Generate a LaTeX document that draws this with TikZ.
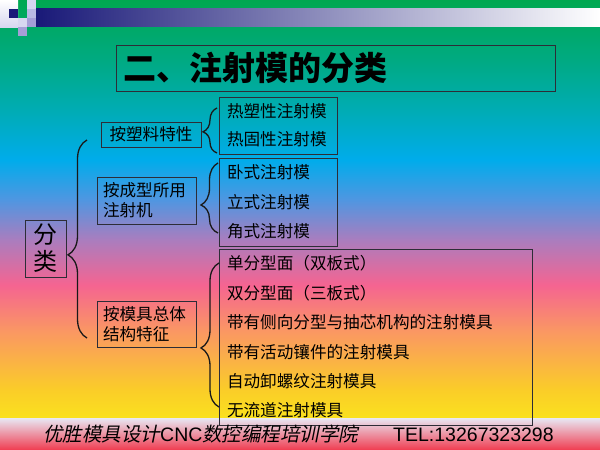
\documentclass[tikz,border=0pt]{standalone}
\usepackage{fontspec}
\setmainfont{Liberation Sans}
\newfontfamily\cjk{Noto Sans CJK SC}
\newfontfamily\cjkfoot[FakeSlant=0.2]{Noto Sans CJK SC}
\usetikzlibrary{decorations.pathreplacing}
\definecolor{bgA}{RGB}{0,168,80}
\definecolor{bgB}{RGB}{0,170,130}
\definecolor{bgC}{RGB}{0,172,180}
\definecolor{bgD}{RGB}{0,172,235}
\definecolor{bgE}{RGB}{80,150,225}
\definecolor{bgF}{RGB}{170,125,190}
\definecolor{bgG}{RGB}{245,100,145}
\definecolor{bgH}{RGB}{250,150,100}
\definecolor{bgI}{RGB}{250,205,40}
\definecolor{bgJ}{RGB}{250,225,30}
\definecolor{footA}{RGB}{232,232,244}
\definecolor{footB}{RGB}{242,170,185}
\definecolor{footC}{RGB}{240,60,80}
\definecolor{navy}{RGB}{25,25,120}
\definecolor{lav}{RGB}{185,185,228}
\definecolor{palelav}{RGB}{215,215,240}
\definecolor{midlav}{RGB}{165,158,215}
\definecolor{boxline}{RGB}{45,45,55}
\pgfdeclareverticalshading{slidebg}{100bp}{color(0bp)=(bgJ); color(25bp)=(bgJ); color(28.35bp)=(bgI); color(35.53bp)=(bgH); color(40.91bp)=(bgG); color(46.29bp)=(bgF); color(51.08bp)=(bgE); color(55.86bp)=(bgD); color(61.84bp)=(bgC); color(67.82bp)=(bgB); color(75bp)=(bgA); color(100bp)=(bgA)}
\tikzset{
  box/.style={draw=boxline, line width=0.7pt, inner xsep=8pt, inner ysep=0pt, align=left, text=black},
  brc/.style n args={2}{decorate, decoration={brace, amplitude=#1, aspect=#2}, line width=1.3pt, draw=black!90},
  foot/.style={anchor=base west, inner sep=0pt, text=black},
}
\begin{document}
\begin{tikzpicture}[x=1pt, y=-1pt]
    \useasboundingbox (0,0) rectangle (600,450);
    \shade[shading=slidebg] (0,0) rectangle (600,418);
    \shade[top color=footA, middle color=footB, bottom color=footC] (0,418) rectangle (600,450);
    \shade[left color=navy, middle color=lav, right color=white] (36,8) rectangle (600,26);
    \shade[top color=white, bottom color=palelav] (0,0) rectangle (18,27);
    \fill[navy] (9,9) rectangle (18,18);
    \fill[palelav] (27,0) rectangle (36,9);
    \fill[lav] (27,9) rectangle (36,18);
    \fill[palelav] (18,18) rectangle (27,27);
    \fill[midlav] (27,18) rectangle (36,27);
    \fill[midlav] (18,27) rectangle (27,36);
    \node[box, text width=425pt, inner xsep=7pt, minimum height=46pt, font=\cjk\bfseries\fontsize{33}{36}\selectfont] (title) at (335.5,68) {二、注射模的分类};
    \node[box, minimum width=41pt, minimum height=57pt, inner xsep=0pt, align=center, font=\cjk\fontsize{24}{27}\selectfont] (cls) at (45.5,248.5) {分\\类};
    \node[box, minimum width=100pt, minimum height=25pt, align=center, font=\cjk\fontsize{16.6}{20}\selectfont] (plastic) at (151,134.5) {按塑料特性};
    \node[box, text width=87pt, inner xsep=6pt, minimum height=47pt, font=\cjk\fontsize{16.6}{20}\selectfont] (machine) at (146.5,200.5) {按成型所用\\注射机};
    \node[box, text width=87pt, inner xsep=6pt, minimum height=46pt, font=\cjk\fontsize{16.6}{20}\selectfont] (frame) at (146.5,324) {按模具总体\\结构特征};
    \node[box, text width=102pt, minimum height=57pt, font=\cjk\fontsize{16.6}{28}\selectfont] (thermo) at (278,125.5) {热塑性注射模\\热固性注射模};
    \node[box, text width=102pt, minimum height=88pt, font=\cjk\fontsize{16.6}{29.5}\selectfont] (press) at (278,202) {卧式注射模\\立式注射模\\角式注射模};
    \node[box, text width=297pt, minimum height=176pt, font=\cjk\fontsize{16.6}{29.4}\selectfont] (mold) at (375.5,337) {单分型面（双板式）\\双分型面（三板式）\\带有侧向分型与抽芯机构的注射模具\\带有活动镶件的注射模具\\自动卸螺纹注射模具\\无流道注射模具};
    \coordinate (b0s) at (87,338);
    \coordinate (b0e) at (87,140);
    \coordinate (b1s) at (217,153);
    \coordinate (b1e) at (217,108);
    \coordinate (b2s) at (218,233);
    \coordinate (b2e) at (218,163);
    \coordinate (b3s) at (219,407);
    \coordinate (b3e) at (219,263);
    \draw[brc={19pt}{0.42}] (b0s) -- (b0e);
    \draw[brc={14pt}{0.47}] (b1s) -- (b1e);
    \draw[brc={17pt}{0.4}] (b2s) -- (b2e);
    \draw[brc={18pt}{0.41}] (b3s) -- (b3e);
    \node[foot, font=\cjkfoot\fontsize{19.5}{20}\selectfont] (school) at (43,441) {优胜模具设计{\rmfamily\upshape CNC}数控编程培训学院};
    \node[foot, font=\fontsize{19.5}{20}\selectfont] (tel) at (393,441) {TEL:13267323298};
\end{tikzpicture}
\end{document}
